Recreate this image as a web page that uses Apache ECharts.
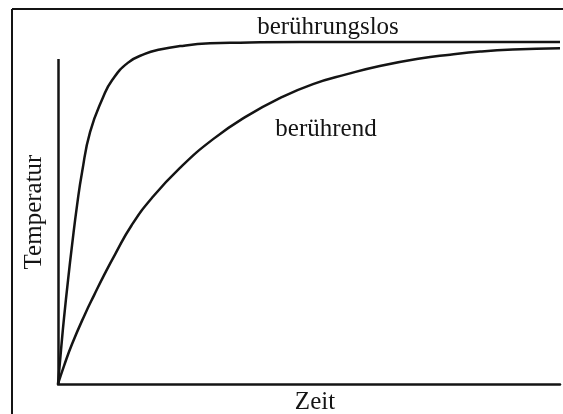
<!DOCTYPE html>
<html>
<head>
<meta charset="utf-8">
<title>Temperatur Zeit</title>
<script src="https://cdn.jsdelivr.net/npm/echarts@6/dist/echarts.min.js"></script>
<style>
  html, body { margin: 0; padding: 0; background: #fff; }
  #chart { width: 563px; height: 414px; }
</style>
</head>
<body>
<div id="chart"></div>
<script>
// Zeit (0-100) und Temperatur (0-100)
let fastTime = [0, 0.6, 1.2, 2.0, 2.8, 3.8, 4.8, 6.4, 9.0, 10.8, 13.9, 17.3, 20.3, 24.3, 30.3, 36.3, 48.2, 100]
let fastTemp = [0, 9.9, 19.3, 30.4, 40.6, 52.3, 62.0, 73.7, 83.9, 88.9, 93.9, 96.5, 97.8, 98.8, 99.6, 99.8, 100, 100]

let slowTime = [0, 1.2, 2.8, 5.4, 7.2, 9.2, 11.4, 14.7, 18.7, 24.3, 30.9, 37.7, 44.2, 50.8, 57.6, 64.1, 72.1, 78.1, 84.1, 90.6, 100]
let slowTemp = [0, 5.3, 11.7, 20.5, 26.0, 31.9, 38.0, 46.5, 54.4, 63.2, 71.6, 78.4, 83.6, 87.7, 90.6, 93.0, 95.2, 96.3, 97.2, 97.8, 98.2]

// Hoehe der gezeichneten Temperatur-Achse
let yAxisTop = 95

let seriesNames = ['berührungslos', 'berührend']
let axisNames = ['Zeit', 'Temperatur']

let ink = '#141414'
let serif = 'Liberation Serif'

function zip (xs, ys) {
  let out = []
  for (let i = 0; i < xs.length; i++) {
    out.push([xs[i], ys[i]])
  }
  return out
}

let chart = echarts.init(document.getElementById('chart'), null, {renderer: 'canvas'})

let option = {
  animation: false,
  backgroundColor: '#fff',
  grid: {
    left: 58,
    right: 3,
    top: 42,
    bottom: 30
  },
  xAxis: {
    type: 'value',
    min: 0,
    max: 100,
    axisLine: {show: true, lineStyle: {color: ink, width: 2.5}},
    axisTick: {show: false},
    axisLabel: {show: false},
    splitLine: {show: false}
  },
  yAxis: {
    type: 'value',
    min: 0,
    max: 100,
    axisLine: {show: false},
    axisTick: {show: false},
    axisLabel: {show: false},
    splitLine: {show: false}
  },
  series: [
    {
      name: seriesNames[0],
      type: 'line',
      data: zip(fastTime, fastTemp),
      smooth: 0.5,
      showSymbol: false,
      clip: false,
      lineStyle: {color: ink, width: 2.5},
      // senkrechte Achse (kuerzer als die Kurven)
      markLine: {
        silent: true,
        symbol: 'none',
        label: {show: false},
        lineStyle: {color: ink, width: 2.5, type: 'solid'},
        data: [[{coord: [0, 0]}, {coord: [0, yAxisTop]}]]
      }
    },
    {
      name: seriesNames[1],
      type: 'line',
      data: zip(slowTime, slowTemp),
      smooth: 0.5,
      showSymbol: false,
      clip: false,
      lineStyle: {color: ink, width: 2.5}
    }
  ],
  graphic: [
    // Rahmen links und oben
    {type: 'line', shape: {x1: 12, y1: 9, x2: 12, y2: 414}, style: {stroke: ink, lineWidth: 2}},
    {type: 'line', shape: {x1: 12, y1: 9, x2: 563, y2: 9}, style: {stroke: ink, lineWidth: 2}},
    {type: 'text', x: 328, y: 27, style: {text: seriesNames[0], font: '25px "' + serif + '"', fill: ink, align: 'center', verticalAlign: 'middle'}},
    {type: 'text', x: 326, y: 129, style: {text: seriesNames[1], font: '25px "' + serif + '"', fill: ink, align: 'center', verticalAlign: 'middle'}},
    {type: 'text', x: 315, y: 402, style: {text: axisNames[0], font: '25px "' + serif + '"', fill: ink, align: 'center', verticalAlign: 'middle'}},
    {type: 'text', x: 34, y: 212, rotation: Math.PI / 2, style: {text: axisNames[1], font: '25px "' + serif + '"', fill: ink, align: 'center', verticalAlign: 'middle'}}
  ]
}

chart.setOption(option)
</script>
</body>
</html>
